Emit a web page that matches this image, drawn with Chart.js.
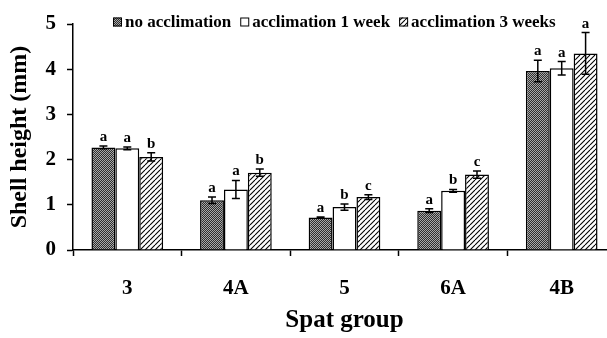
<!DOCTYPE html>
<html>
<head>
<meta charset="utf-8">
<script src="https://cdn.jsdelivr.net/npm/chart.js@4.4.1/dist/chart.umd.min.js"></script>
<style>
  body { margin: 0; background: #fff; }
  #wrap { width: 607px; height: 338px; overflow: hidden; }
</style>
</head>
<body>
<div id="wrap">
  <canvas id="myChart" width="622" height="338"></canvas>
</div>
<script>
const groups = ['3', '4A', '5', '6A', '4B'];

const noAcclimation = [2.27, 1.10, 0.72, 0.87, 3.96];
const noAcclimationErr = [0.03, 0.07, 0.01, 0.04, 0.24];
const noAcclimationLetters = ['a', 'a', 'a', 'a', 'a'];

const oneWeek = [2.25, 1.34, 0.95, 1.31, 4.02];
const oneWeekErr = [0.03, 0.20, 0.07, 0.03, 0.15];
const oneWeekLetters = ['a', 'a', 'b', 'b', 'a'];

const threeWeeks = [2.06, 1.71, 1.17, 1.67, 4.35];
const threeWeeksErr = [0.09, 0.08, 0.05, 0.08, 0.46];
const threeWeeksLetters = ['b', 'b', 'c', 'c', 'a'];

const yTicksMax = 5;

const serif = "'Liberation Serif', 'Times New Roman', serif";

// fine checkered grey fill
function makeDotPattern() {
    const c = document.createElement('canvas');
    c.width = 2;
    c.height = 2;
    const g = c.getContext('2d');
    g.fillStyle = '#2e2e2e';
    g.fillRect(0, 0, 2, 2);
    g.fillStyle = '#a8a8a8';
    g.fillRect(0, 0, 1, 1);
    g.fillRect(1, 1, 1, 1);
    return g.createPattern(c, 'repeat');
}

// "////" hatching
function makeHatchPattern() {
    const size = 5;
    const c = document.createElement('canvas');
    c.width = size;
    c.height = size;
    const g = c.getContext('2d');
    g.fillStyle = '#fff';
    g.fillRect(0, 0, size, size);
    g.strokeStyle = '#000';
    g.lineWidth = 1.1;
    for (let k = -size; k <= size; k += size) {
        g.beginPath();
        g.moveTo(k, size);
        g.lineTo(k + size, 0);
        g.stroke();
    }
    return g.createPattern(c, 'repeat');
}

const dotFill = makeDotPattern();
const hatchFill = makeHatchPattern();

const errorBars = {
    id: 'errorBars',
    afterDatasetsDraw(chart) {
        const ctx = chart.ctx;
        const y = chart.scales.y;
        ctx.save();
        chart.data.datasets.forEach((ds, i) => {
            const meta = chart.getDatasetMeta(i);
            meta.data.forEach((bar, j) => {
                const v = ds.data[j];
                const e = ds.errors[j];
                const top = y.getPixelForValue(v + e);
                const bottom = y.getPixelForValue(v - e);
                ctx.strokeStyle = '#000';
                ctx.lineWidth = 1.5;
                ctx.beginPath();
                ctx.moveTo(bar.x, top);
                ctx.lineTo(bar.x, bottom);
                ctx.moveTo(bar.x - 4, top);
                ctx.lineTo(bar.x + 4, top);
                ctx.moveTo(bar.x - 4, bottom);
                ctx.lineTo(bar.x + 4, bottom);
                ctx.stroke();

                ctx.fillStyle = '#000';
                ctx.font = 'bold 15px ' + serif;
                ctx.textAlign = 'center';
                ctx.textBaseline = 'alphabetic';
                ctx.fillText(ds.letters[j], bar.x, top - 5);
            });
        });
        ctx.restore();
    }
};

// legend sits inside the plot, along the top
const topLegend = {
    id: 'topLegend',
    afterDraw(chart) {
        const ctx = chart.ctx;
        let x = 113;
        const yc = 22;
        const box = 9;
        ctx.save();
        ctx.font = 'bold 17px ' + serif;
        ctx.textBaseline = 'middle';
        ctx.textAlign = 'left';
        chart.data.datasets.forEach(ds => {
            ctx.fillStyle = ds.backgroundColor;
            ctx.fillRect(x, yc - box / 2, box, box);
            ctx.strokeStyle = '#000';
            ctx.lineWidth = 1;
            ctx.strokeRect(x + 0.5, yc - box / 2 + 0.5, box - 1, box - 1);
            x += box + 3;
            ctx.fillStyle = '#000';
            ctx.fillText(ds.label, x, yc + 1);
            x += ctx.measureText(ds.label).width + 9;
        });
        ctx.restore();
    }
};

function mainEvent() {
    const ctx = document.querySelector('#myChart');

    new Chart(ctx, {
        type: 'bar',
        data: {
            labels: groups,
            datasets: [
                {
                    label: 'no acclimation',
                    data: noAcclimation,
                    errors: noAcclimationErr,
                    letters: noAcclimationLetters,
                    backgroundColor: dotFill,
                    borderColor: '#000',
                    borderWidth: 1.5
                },
                {
                    label: 'acclimation 1 week',
                    data: oneWeek,
                    errors: oneWeekErr,
                    letters: oneWeekLetters,
                    backgroundColor: '#fff',
                    borderColor: '#000',
                    borderWidth: 1.5
                },
                {
                    label: 'acclimation 3 weeks',
                    data: threeWeeks,
                    errors: threeWeeksErr,
                    letters: threeWeeksLetters,
                    backgroundColor: hatchFill,
                    borderColor: '#000',
                    borderWidth: 1.5
                }
            ]
        },
        options: {
            responsive: false,
            animation: false,
            layout: { padding: { top: 24, right: 6, left: 0, bottom: 0 } },
            datasets: {
                bar: { barPercentage: 1.0, categoryPercentage: 0.66 }
            },
            plugins: {
                legend: { display: false },
                tooltip: { enabled: false }
            },
            scales: {
                x: {
                    afterFit(scale) { scale.height = 88; },
                    grid: {
                        offset: true,
                        drawOnChartArea: false,
                        tickLength: 6,
                        tickColor: '#000',
                        tickWidth: 1.5
                    },
                    border: { color: '#000', width: 1.5 },
                    ticks: {
                        color: '#000',
                        padding: 20,
                        font: { family: serif, size: 21, weight: 'bold' }
                    },
                    title: {
                        display: true,
                        text: 'Spat group',
                        color: '#000',
                        padding: { top: 0, bottom: 2 },
                        font: { family: serif, size: 25, weight: 'bold' }
                    }
                },
                y: {
                    min: 0,
                    max: yTicksMax,
                    afterFit(scale) { scale.width = 73; },
                    grid: {
                        drawOnChartArea: false,
                        tickLength: 6,
                        tickColor: '#000',
                        tickWidth: 1.5
                    },
                    border: { color: '#000', width: 1.5 },
                    ticks: {
                        stepSize: 0.5,
                        color: '#000',
                        padding: 11,
                        font: { family: serif, size: 21, weight: 'bold' },
                        callback: v => (v % 1 === 0 ? v : '')
                    },
                    title: {
                        display: true,
                        text: 'Shell height (mm)',
                        color: '#000',
                        padding: { top: 5, bottom: 0 },
                        font: { family: serif, size: 24, weight: 'bold' }
                    }
                }
            }
        },
        plugins: [errorBars, topLegend]
    });
}

document.addEventListener("DOMContentLoaded", () => mainEvent());
</script>
</body>
</html>
